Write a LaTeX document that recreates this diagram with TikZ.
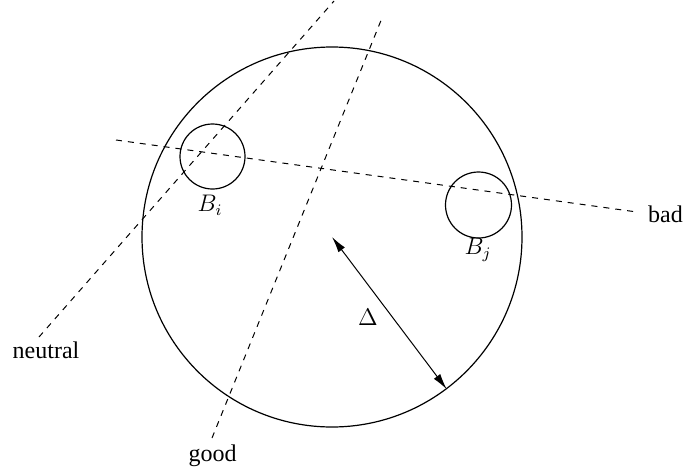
\documentclass[tikz,border=0pt]{standalone}
\usepackage[no-math]{fontspec}
\setmainfont{Liberation Serif}
\usetikzlibrary{arrows.meta}
\tikzset{
  ring/.style={circle, draw, line width=0.6pt, inner sep=0pt},
  cut/.style={dashed, line width=0.5pt},
  lab/.style={inner sep=0pt, font=\fontsize{12}{14}\selectfont},
  dim/.style={line width=0.5pt, {Latex[length=8pt,width=4pt]}-{Latex[length=8pt,width=4pt]}}
}
\begin{document}
\begin{tikzpicture}[x=0.5pt,y=-0.5pt]
\useasboundingbox (0,0) rectangle (685,471);
% disks
\node[ring, minimum size=190pt] (D) at (332,237) {};
\node[ring, minimum size=32.5pt] (Bi) at (212.5,156.5) {};
\node[ring, minimum size=33pt] (Bj) at (478.5,205) {};
% labels
\node[lab] (Li) at (210,205) {$B_i$};
\node[lab] (Lj) at (478,250) {$B_j$};
\node[lab] (Ldelta) at (368,317) {$\Delta$};
\node[lab] (neutral) at (46,350) {neutral};
\node[lab] (good) at (212.5,456) {good};
\node[lab] (bad) at (665.5,214) {bad};
% line ends
\coordinate (n1) at (39,337);
\coordinate (n2) at (334,1);
\coordinate (g1) at (212,438);
\coordinate (g2) at (382,18);
\coordinate (b1) at (116,140);
\coordinate (b2) at (637,212);
% cuts
\draw[cut] (n1) -- (n2);
\draw[cut] (g1) -- (g2);
\draw[cut] (b1) -- (b2);
% radius
\draw[dim] (D.center) -- (D.-53.6);
\end{tikzpicture}
\end{document}
